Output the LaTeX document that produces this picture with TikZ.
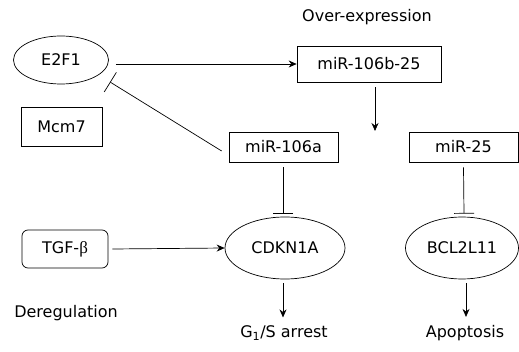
\documentclass[tikz,border=0pt]{standalone}
\usepackage{fontspec}
\setmainfont{DejaVu Sans}
\newfontfamily\greekfont{Liberation Serif}
\usetikzlibrary{arrows.meta,shapes.geometric}

\begin{document}
\begin{tikzpicture}[x=1pt, y=-1pt, line width=0.7pt,
  >={Stealth[length=8pt, width=7pt]},
  every node/.style={font=\fontsize{16}{19}\selectfont, inner sep=0pt},
  gene/.style={ellipse, draw, minimum height=62pt},
  mirna/.style={rectangle, draw, minimum height=30pt},
  inh/.style={-{Bar[width=20pt]}}]
  \useasboundingbox (0,0) rectangle (519,352);
  % upstream factors
  \node[gene, minimum width=95pt, minimum height=48pt] (e2f1) at (61,60) {E2F1};
  \node[mirna, minimum width=81pt, minimum height=39pt] (mcm7) at (61.5,126.5) {Mcm7};
  \node[mirna, rounded corners=6pt, minimum width=86pt, minimum height=38pt]
    (tgfb) at (65,249) {TGF-{\greekfont\fontsize{17}{19}\selectfont β}};
  % miRNA cluster
  \node (over) at (367,17) {Over-expression};
  \node[mirna, minimum width=144pt, minimum height=36pt] (mir106b) at (369,64) {miR-106b-25};
  \node[mirna, minimum width=109pt] (mir106a) at (283.5,147) {miR-106a};
  \node[mirna, minimum width=109pt] (mir25) at (463.5,147) {miR-25};
  % targets
  \node[gene, minimum width=120pt] (cdkn1a) at (285,248) {CDKN1A};
  \node[gene, minimum width=113pt] (bcl2l11) at (462,248) {BCL2L11};
  % outcomes
  \node (dereg) at (66,313) {Deregulation};
  \node (arrest) at (284,333) {G\textsubscript{1}/S arrest};
  \node (apop) at (465,333) {Apoptosis};
  \coordinate (e2f1bar) at (110,82);
  \coordinate (split) at (375,131);
  % activation
  \draw[->] ([xshift=7pt]e2f1.east |- mir106b.west) -- (mir106b.west);
  \draw[->] ([xshift=6pt, yshift=-5pt]mir106b.south) -- (split);
  \draw[->] ([xshift=4pt]tgfb.east) -- (cdkn1a.west);
  \draw[->] ([xshift=-2pt, yshift=-4pt]cdkn1a.south) -- ([xshift=-1pt, yshift=8pt]arrest.north);
  \draw[->] ([xshift=4pt, yshift=-4pt]bcl2l11.south) -- ([xshift=1pt, yshift=8pt]apop.north);
  % inhibition
  \draw[inh, {Bar[width=23pt]}-] (e2f1bar) -- ([xshift=-7pt, yshift=-4pt]mir106a.west);
  \draw[inh] ([xshift=-0.5pt, yshift=-5pt]mir106a.south) -- ([xshift=-2pt, yshift=3pt]cdkn1a.north);
  \draw[inh] ([yshift=-5pt]mir25.south) -- ([xshift=2pt, yshift=3pt]bcl2l11.north);
\end{tikzpicture}
\end{document}
